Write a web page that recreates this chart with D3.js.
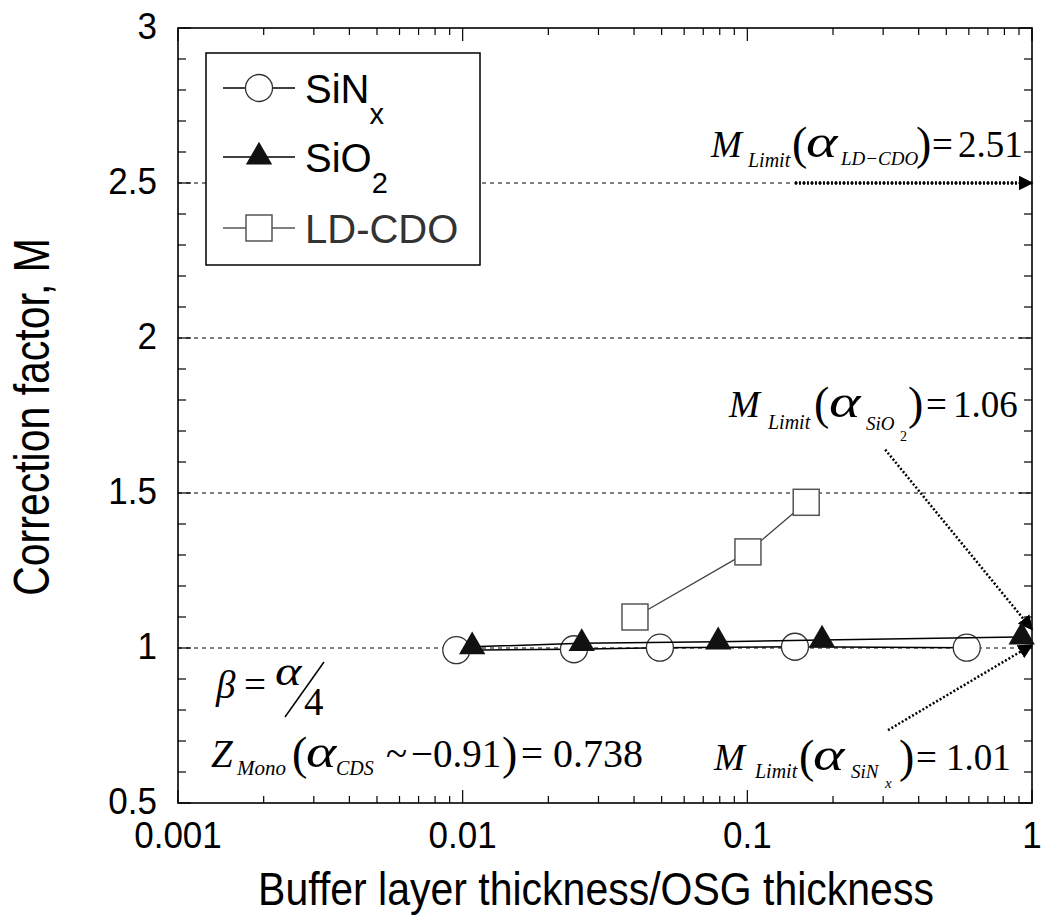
<!DOCTYPE html>
<html lang="en">
<head>
    <meta charset="UTF-8">
    <title>Correction factor vs buffer layer thickness</title>
    <script src="https://d3js.org/d3.v7.min.js"></script>
    <style>
        body { margin: 0; background: #fff; }
        svg { display: block; }
    </style>
</head>
<body>
    <svg id="chart" width="1042" height="916"></svg>
    <script>
        // data
        const xTickVals = [0.001, 0.01, 0.1, 1];
        const xTickLabels = ["0.001", "0.01", "0.1", "1"];
        const yTickVals = [0.5, 1, 1.5, 2, 2.5, 3];
        const yTickLabels = ["0.5", "1", "1.5", "2", "2.5", "3"];
        const gridVals = [1, 1.5, 2, 2.5];

        const sinxX = [0.0095, 0.0246, 0.0493, 0.147, 0.59];
        const sinxM = [0.993, 0.996, 1.001, 1.004, 1.001];
        const sio2X = [0.0108, 0.0262, 0.079, 0.183, 0.92];
        const sio2M = [1.004, 1.015, 1.020, 1.026, 1.036];
        const ldcdoX = [0.0403, 0.1005, 0.161];
        const ldcdoM = [1.10, 1.31, 1.47];

        // limit arrows: [x0, y0, x1, y1]
        const arrowLD = [0.147, 2.5, 1, 2.5];
        const arrowSiO2 = [0.305, 1.64, 1, 1.06];
        const arrowSiN = [0.312, 0.735, 1, 1.01];

        const svg = d3.select("#chart");
        const margin = {left: 178, right: 1032, top: 28, bottom: 803};
        const x = d3.scaleLog().domain([0.001, 1]).range([margin.left, margin.right]);
        const y = d3.scaleLinear().domain([0.5, 3]).range([margin.bottom, margin.top]);
        const sans = "'Liberation Sans', Arial, sans-serif";
        const serif = "'Liberation Serif', 'Times New Roman', serif";

        svg.append("rect").attr("width", 1042).attr("height", 916).attr("fill", "#fff");

        // grid lines
        svg.append("g").selectAll("line").data(gridVals).join("line")
            .attr("x1", x(0.001)).attr("x2", x(1))
            .attr("y1", d => y(d)).attr("y2", d => y(d))
            .attr("stroke", "#000").attr("stroke-width", 1)
            .attr("stroke-dasharray", "4,4");

        // ticks (inward, all four sides)
        const ticks = svg.append("g").attr("stroke", "#000").attr("stroke-width", 1.2);
        x.ticks().forEach(v => {
            const major = Math.abs(Math.log10(v) - Math.round(Math.log10(v))) < 1e-9;
            const len = major ? 13 : 7;
            ticks.append("line").attr("x1", x(v)).attr("x2", x(v)).attr("y1", y(0.5)).attr("y2", y(0.5) - len);
            ticks.append("line").attr("x1", x(v)).attr("x2", x(v)).attr("y1", y(3)).attr("y2", y(3) + len);
        });
        d3.range(5, 31).map(d => d / 10).forEach(v => {
            const major = Math.abs(v * 2 - Math.round(v * 2)) < 1e-9;
            const len = major ? 13 : 8;
            ticks.append("line").attr("x1", x(0.001)).attr("x2", x(0.001) + len).attr("y1", y(v)).attr("y2", y(v));
            ticks.append("line").attr("x1", x(1)).attr("x2", x(1) - len).attr("y1", y(v)).attr("y2", y(v));
        });

        // frame
        svg.append("rect")
            .attr("x", x(0.001)).attr("y", y(3))
            .attr("width", x(1) - x(0.001)).attr("height", y(0.5) - y(3))
            .attr("fill", "none").attr("stroke", "#000").attr("stroke-width", 1.6);

        // tick labels
        svg.append("g").selectAll("text").data(xTickVals).join("text")
            .attr("transform", d => `translate(${x(d)},848) scale(1,1.06)`)
            .attr("text-anchor", "middle").attr("font-family", sans).attr("font-size", 35)
            .text((d, i) => xTickLabels[i]);
        svg.append("g").selectAll("text").data(yTickVals).join("text")
            .attr("transform", d => `translate(157,${y(d) + 11}) scale(1,1.06)`)
            .attr("text-anchor", "end").attr("font-family", sans).attr("font-size", 35)
            .text((d, i) => yTickLabels[i]);

        // axis titles
        svg.append("text")
            .attr("transform", "translate(596,905) scale(1,1.12)")
            .attr("text-anchor", "middle").attr("font-family", sans).attr("font-size", 41)
            .text("Buffer layer thickness/OSG thickness");
        svg.append("text")
            .attr("transform", "translate(49,417) rotate(-90) scale(1,1.2)")
            .attr("text-anchor", "middle").attr("font-family", sans).attr("font-size", 41)
            .text("Correction factor, M");

        // arrows
        const defs = svg.append("defs");
        defs.append("marker").attr("id", "head")
            .attr("viewBox", "0 0 10 10").attr("refX", 9).attr("refY", 5)
            .attr("markerWidth", 15).attr("markerHeight", 15).attr("markerUnits", "userSpaceOnUse")
            .attr("orient", "auto")
            .append("path").attr("d", "M0,0L10,5L0,10Z").attr("fill", "#000");

        function arrow(a, w) {
            svg.append("line")
                .attr("x1", x(a[0])).attr("y1", y(a[1]))
                .attr("x2", x(a[2])).attr("y2", y(a[3]))
                .attr("stroke", "#000").attr("stroke-width", w)
                .attr("stroke-dasharray", "2,2")
                .attr("marker-end", "url(#head)");
        }
        arrow(arrowLD, 3.5);
        arrow(arrowSiO2, 2.5);
        arrow(arrowSiN, 2.5);

        const line = d3.line().x(d => x(d[0])).y(d => y(d[1]));

        // LD-CDO
        const ld = d3.zip(ldcdoX, ldcdoM);
        svg.append("path").datum(ld).attr("d", line)
            .attr("fill", "none").attr("stroke", "#444").attr("stroke-width", 1.3);
        svg.append("g").selectAll("rect").data(ld).join("rect")
            .attr("x", d => x(d[0]) - 13).attr("y", d => y(d[1]) - 13)
            .attr("width", 26).attr("height", 26)
            .attr("fill", "#fff").attr("stroke", "#555").attr("stroke-width", 1.5);

        // SiNx
        const sn = d3.zip(sinxX, sinxM);
        svg.append("path").datum(sn).attr("d", line)
            .attr("fill", "none").attr("stroke", "#000").attr("stroke-width", 1.5);
        svg.append("g").selectAll("circle").data(sn).join("circle")
            .attr("cx", d => x(d[0])).attr("cy", d => y(d[1])).attr("r", 13.5)
            .attr("fill", "#fff").attr("stroke", "#333").attr("stroke-width", 1.3);

        // SiO2
        const so = d3.zip(sio2X, sio2M);
        svg.append("path").datum(so).attr("d", line)
            .attr("fill", "none").attr("stroke", "#000").attr("stroke-width", 1.5);
        const tri = d3.symbol().type(d3.symbolTriangle).size(300);
        svg.append("g").selectAll("path").data(so).join("path")
            .attr("transform", d => `translate(${x(d[0])},${y(d[1])})`)
            .attr("d", tri).attr("fill", "#111");

        // legend
        const lg = svg.append("g");
        lg.append("rect").attr("x", 206).attr("y", 53).attr("width", 274).attr("height", 212)
            .attr("fill", "#fff").attr("stroke", "#000").attr("stroke-width", 1.5);
        const legendRows = [
            {y: 88, name: "SiN", sub: "x", color: "#000"},
            {y: 157, name: "SiO", sub: "2", color: "#000"},
            {y: 228, name: "LD-CDO", sub: "", color: "#333"}
        ];
        legendRows.forEach((r, i) => {
            lg.append("line").attr("x1", 223).attr("x2", 295).attr("y1", r.y).attr("y2", r.y)
                .attr("stroke", i === 2 ? "#555" : "#000").attr("stroke-width", 1.3);
            if (i === 0) {
                lg.append("circle").attr("cx", 259).attr("cy", r.y).attr("r", 13.5)
                    .attr("fill", "#fff").attr("stroke", "#333").attr("stroke-width", 1.3);
            } else if (i === 1) {
                lg.append("path").attr("transform", `translate(259,${r.y})`).attr("d", tri).attr("fill", "#111");
            } else {
                lg.append("rect").attr("x", 246).attr("y", r.y - 13).attr("width", 26).attr("height", 26)
                    .attr("fill", "#fff").attr("stroke", "#555").attr("stroke-width", 1.5);
            }
            const t = lg.append("text").attr("x", 305).attr("y", r.y + 15)
                .attr("font-family", sans).attr("font-size", 40).attr("fill", r.color);
            t.append("tspan").text(r.name);
            if (r.sub) t.append("tspan").attr("dy", 21).attr("font-size", 29).text(r.sub);
        });

        // math annotations: each piece placed at its own x
        function mathText(y0, parts) {
            const g = svg.append("g").attr("font-family", serif).attr("fill", "#000");
            parts.forEach(p => {
                g.append("text")
                    .attr("transform", `translate(${p.x},${y0 + (p.off || 0)}) scale(${p.sx || 1},1)`)
                    .attr("font-size", p.size || 37)
                    .attr("font-style", p.it ? "italic" : "normal")
                    .text(p.t);
            });
        }

        mathText(157, [
            {t: "M", it: true, x: 711},
            {t: "Limit", it: true, size: 20, off: 10, x: 748},
            {t: "(", size: 46, off: 2, x: 792},
            {t: "α", it: true, size: 46, x: 806, sx: 1.3},
            {t: "LD\u2212CDO", it: true, size: 19, off: 8, x: 841},
            {t: ")", size: 46, off: 2, x: 916},
            {t: "=", x: 932},
            {t: "2.51", x: 958}
        ]);
        mathText(417, [
            {t: "M", it: true, x: 729},
            {t: "Limit", it: true, size: 20, off: 12, x: 768},
            {t: "(", size: 46, off: 2, x: 814},
            {t: "α", it: true, size: 46, x: 829, sx: 1.3},
            {t: "SiO", it: true, size: 19, off: 13, x: 866},
            {t: "2", size: 14, off: 24, x: 900},
            {t: ")", size: 46, off: 2, x: 908},
            {t: "=", x: 926},
            {t: "1.06", x: 953}
        ]);
        mathText(770, [
            {t: "M", it: true, x: 714},
            {t: "Limit", it: true, size: 20, off: 8, x: 755},
            {t: "(", size: 46, off: 2, x: 799},
            {t: "α", it: true, size: 46, x: 813, sx: 1.3},
            {t: "SiN", it: true, size: 19, off: 8, x: 851},
            {t: "x", it: true, size: 15, off: 18, x: 885},
            {t: ")", size: 46, off: 2, x: 899},
            {t: "=", x: 916},
            {t: "1.01", x: 946}
        ]);
        mathText(767, [
            {t: "Z", it: true, x: 211, size: 39},
            {t: "Mono", it: true, size: 21, off: 8, x: 237},
            {t: "(", size: 46, off: 2, x: 292},
            {t: "α", it: true, size: 46, x: 306, sx: 1.25},
            {t: "CDS", it: true, size: 20, off: 8, x: 336},
            {t: "~", x: 386, size: 39},
            {t: "\u22120.91", x: 411, size: 39},
            {t: ")", size: 46, off: 2, x: 502},
            {t: "=", x: 521, size: 39},
            {t: "0.738", x: 553, size: 40}
        ]);

        // beta = alpha / 4
        mathText(698, [
            {t: "β", it: true, x: 216, size: 39},
            {t: "=", x: 244, size: 39}
        ]);
        mathText(685, [{t: "α", it: true, x: 275, size: 42, sx: 1.2}]);
        mathText(715, [{t: "4", x: 304, size: 39}]);
        svg.append("line").attr("x1", 285).attr("y1", 717).attr("x2", 324).attr("y2", 662)
            .attr("stroke", "#000").attr("stroke-width", 1.5);
    </script>
</body>
</html>
